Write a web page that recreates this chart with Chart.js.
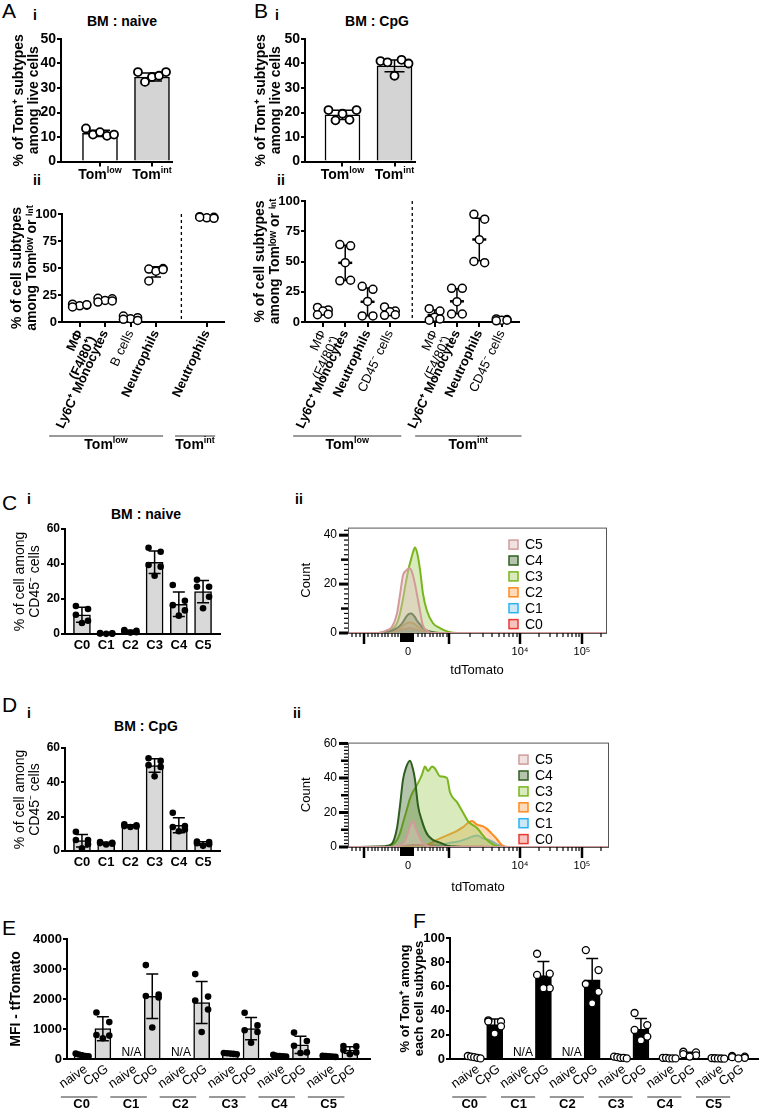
<!DOCTYPE html>
<html>
<head>
<meta charset="utf-8">
<script src="https://cdn.jsdelivr.net/npm/chart.js@4.4.1/dist/chart.umd.min.js"></script>
<style>
  body { margin: 0; width: 763px; height: 1110px; position: relative; background: #fff; overflow: hidden;
         font-family: "Liberation Sans", Arial, sans-serif; color: #000; }
  canvas { position: absolute; }
  .t { position: absolute; white-space: nowrap; line-height: 1; }
  .big { font-size: 21px; }
  .sub { font-size: 14px; font-weight: bold; }
  .c { transform: translateX(-50%); }
</style>
</head>
<body>
<div class="t big" style="left:2px;top:0">A</div>
<div class="t sub" style="left:33px;top:8px">i</div>
<div class="t sub c" style="left:122px;top:14px">BM : naive</div>
<div class="t big" style="left:254px;top:0">B</div>
<div class="t sub" style="left:275px;top:8px">i</div>
<div class="t sub c" style="left:377px;top:14px">BM : CpG</div>
<div class="t sub" style="left:33px;top:173px">ii</div>
<div class="t sub" style="left:277px;top:173px">ii</div>
<div class="t big" style="left:2px;top:492px">C</div>
<div class="t sub" style="left:27px;top:492px">i</div>
<div class="t sub c" style="left:146px;top:507px">BM : naive</div>
<div class="t sub" style="left:295px;top:492px">ii</div>
<div class="t big" style="left:2px;top:694px">D</div>
<div class="t sub" style="left:27px;top:706px">i</div>
<div class="t sub c" style="left:146px;top:719px">BM : CpG</div>
<div class="t sub" style="left:293px;top:706px">ii</div>
<div class="t big" style="left:2px;top:917px">E</div>
<div class="t big" style="left:413px;top:910px">F</div>

<script>
// ---- A/B i : Tom+ subtypes among live cells ----
const tomLevels = [["Tom", "low"], ["Tom", "int"]]
const naiveTomMean = [11.5, 34.5]
const naiveTomSd = [1.3, 1.6]
const naiveTomPts = [[13.5, 11, 12, 10.5, 11], [36.5, 32.5, 34.5, 35, 36.5]]
const cpgTomMean = [19, 39]
const cpgTomSd = [1.9, 2.4]
const cpgTomPts = [[21, 16.8, 19.5, 17, 21], [41, 40.5, 35, 41.5, 40]]

// ---- A/B ii : cell subtypes among Tom low / int ----
const naiveSubsets = [["MΦ", "(F4/80⁺)"], "Ly6C⁺ Monocytes", "B cells", "Neutrophils", "Neutrophils"]
const naiveSubsetBold = [true, true, false, true, true]
const naiveSubMean = [15.3, 20.3, 3.3, 46.4, 96.8]
const naiveSubSd = [1.0, 1.4, 1.5, 4.8, 0.6]
const naiveSubPts = [[16.5, 15.5, 15, 14, 16], [22, 21.5, 20, 18.5, 19.5], [5.5, 4, 3, 2.5, 1.5], [49, 49.5, 47, 38, 48.5], [97.5, 97, 96.5, 97, 96]]

const cpgSubsets = [["MΦ", "(F4/80⁺)"], "Ly6C⁺ Monocytes", "Neutrophils", "CD45⁻ cells", ["MΦ", "(F4/80⁺)"], "Ly6C⁺ Monocytes", "Neutrophils", "CD45⁻ cells"]
const cpgSubsetBold = [false, true, true, false, false, true, true, false]
const cpgSubMean = [8.7, 48.9, 16.7, 8.3, 5.6, 17.1, 68.2, 1.7]
const cpgSubSd = [2.6, 14.5, 11.5, 2.8, 4.3, 10.3, 17.5, 0.6]
const cpgSubPts = [[12, 10, 9, 6, 6.5], [64, 63, 49, 34, 34.5], [29.5, 27, 17, 5, 5], [12.5, 9, 8.5, 5.5, 6], [11, 9, 4, 1.5, 2.5], [27.8, 27.8, 16.8, 6.6, 6.6], [89, 85, 68, 50, 49], [2.5, 2, 1.5, 1, 1.5]]

// ---- C/D i : % of clusters among CD45- cells ----
const clusters = ["C0", "C1", "C2", "C3", "C4", "C5"]
const naiveClMean = [11, 0.3, 1.5, 41, 17, 24.2]
const naiveClSd = [4.3, 0.2, 0.6, 6.4, 7, 6.4]
const naiveClPts = [[16, 14.3, 11, 7.6, 6.3], [0.5, 0.4, 0.3, 0.2, 0.1], [2.2, 1.8, 1.5, 1, 0.8], [49.3, 47, 39.4, 38.5, 33.3], [28, 19, 16.5, 13.5, 10.5], [31, 27, 27, 21.3, 14.7]]
const cpgClMean = [6, 4.5, 14.7, 49.8, 15, 4.4]
const cpgClSd = [3.6, 0.6, 0.6, 3.9, 4.3, 1]
const cpgClPts = [[11.2, 6.4, 6.4, 4, 1.6], [5.2, 4.8, 4.6, 4.2, 3.8], [15.5, 15, 14.5, 14.3, 14], [54, 52.5, 50, 49, 43.5], [22.3, 14.5, 14, 12.5, 11.5], [5.5, 5.2, 4.5, 4, 3]]

// ---- C/D ii : tdTomato histograms (display channel, count) ----
const naiveChannel = [0, 30, 38, 44, 49, 52, 55, 58, 61, 63, 65, 67, 69, 72, 75, 79, 85, 92, 100, 110, 258]
const naiveC5 = [0, 0, 1, 2.5, 8, 15.7, 23.5, 25.5, 26.5, 26, 23.5, 20, 15.7, 9, 3, 1, 0, 0, 0, 0, 0]
const naiveC4 = [0, 0, 0.3, 1, 2, 3, 4.5, 6.5, 7.8, 8, 7.5, 6.5, 5, 3.5, 2, 1, 0.3, 0, 0, 0, 0]
const naiveC3 = [0, 0, 0.5, 1.5, 4, 8, 14, 21, 27, 30, 33, 35, 33, 26, 16, 9, 4, 2, 0.5, 0, 0]
const naiveC2 = [0, 0, 0, 0.5, 1, 2, 3, 3.8, 4.3, 4.3, 4, 3.5, 2.8, 2, 1.2, 0.5, 0, 0, 0, 0, 0]
const naiveC1 = [0, 0, 0, 0, 0.2, 0.4, 0.6, 0.8, 0.9, 0.9, 0.8, 0.7, 0.5, 0.3, 0.2, 0, 0, 0, 0, 0, 0]
const naiveC0 = [0, 0, 0, 0.3, 0.6, 1, 1.4, 1.7, 1.9, 1.9, 1.7, 1.5, 1.2, 0.8, 0.5, 0.2, 0, 0, 0, 0, 0]

const cpgChannel = [0, 37, 44, 49, 52, 55, 58, 62, 65, 67, 70, 74, 77, 80, 84, 87, 92, 99, 102, 109, 115, 120, 124, 129, 135, 139, 145, 149, 154, 162, 172, 260]
const cpgC5 = [0, 0, 0, 0.5, 1, 2, 5, 12, 15, 12, 7.8, 3, 1.5, 0.5, 0, 0, 0, 0, 0, 0, 0, 0, 0, 0, 0, 0, 0, 0, 0, 0, 0, 0]
const cpgC4 = [0, 0.5, 2, 11, 24, 39, 46, 50, 45, 39, 24, 15, 10, 6.7, 4.5, 3.5, 2.5, 0.8, 0.5, 0.2, 0, 0, 0, 0, 0, 0, 0, 0, 0, 0, 0, 0]
const cpgC3 = [0, 0, 1, 4, 8, 14, 20, 28, 32, 34, 37, 42, 46.7, 44, 46.7, 45.5, 41, 40, 31.7, 26, 20, 15, 13, 11, 6.7, 4, 1.5, 0.5, 0, 0, 0, 0]
const cpgC2 = [0, 0, 0, 0, 0, 0, 0, 0, 0, 0, 0, 0, 0, 1.5, 2.5, 3.5, 5, 6.7, 7.5, 9.4, 11.5, 14, 15, 13, 12, 10.5, 7, 4.5, 1, 0, 0, 0]
const cpgC1 = [0, 0, 0, 0, 0, 0, 0, 0, 0, 0, 0, 0, 0, 0, 0, 0.5, 1, 2, 2.5, 3, 4, 5, 6, 6.7, 5, 4.5, 3, 1.5, 0.5, 0, 0, 0]
const cpgC0 = [0, 0, 0, 0, 0.3, 0.5, 0.8, 1, 1.1, 1.2, 1.2, 1, 1, 0.9, 0.8, 0.8, 0.7, 0.5, 0.5, 0.5, 0.5, 0.5, 0.5, 0.5, 0.4, 0.3, 0.2, 0.2, 0, 0, 0, 0]

const fluoTicks = [60, 172, 234]
const fluoLabels = ["0", "10⁴", "10⁵"]

// ---- E : MFI tdTomato ----
const mfiNaiveMean = [133, null, null, 180, 105, 90]
const mfiNaiveSd = [35, null, null, 15, 23, 15]
const mfiNaivePts = [[180, 150, 120, 100, 90], null, null, [200, 190, 180, 170, 160], [140, 110, 100, 90, 80], [110, 100, 90, 80, 70]]
const mfiCpgMean = [1010, 2090, 1880, 1010, 470, 300]
const mfiCpgSd = [400, 740, 700, 370, 290, 110]
const mfiCpgPts = [[1550, 1230, 800, 780, 690], [3130, 2150, 2100, 2050, 1050], [2830, 2080, 1950, 1650, 900], [1540, 1120, 960, 900, 540], [880, 600, 440, 220, 200], [430, 420, 300, 220, 160]]

// ---- F : % Tom+ among each cell subtype ----
const tomNaiveMean = [1.5, null, null, 1.2, 0.7, 0.5]
const tomNaiveSd = [0.8, null, null, 0.6, 0.3, 0.2]
const tomNaivePts = [[2.5, 2, 1.5, 1, 0.5], null, null, [2, 1.5, 1, 1, 0.5], [1, 1, 0.5, 0.5, 0.5], [0.8, 0.6, 0.5, 0.4, 0.3]]
const tomCpgMean = [28.5, 69, 65.5, 24.5, 4, 1.5]
const tomCpgSd = [4.5, 11.5, 17.5, 9, 1.6, 0.8]
const tomCpgPts = [[32, 31, 31, 27, 21], [87, 70.5, 69.5, 58.5, 58.5], [90, 73.5, 62, 55.5, 46], [38, 28, 24, 18.5, 15.5], [6, 5.5, 4, 3, 2], [2.5, 2, 1.5, 1, 0.5]]

// ---------------------------------------------------------------
const FONT = '"Liberation Sans", Arial, sans-serif'
const f = (size, weight) => ({ family: FONT, size, weight: weight || "normal", lineHeight: 1.1 })

Chart.defaults.animation = false
Chart.defaults.responsive = false
Chart.defaults.maintainAspectRatio = false
Chart.defaults.devicePixelRatio = 1
Chart.defaults.font.family = FONT
Chart.defaults.color = "#000"
Chart.defaults.events = []
Chart.defaults.plugins.legend.display = false
Chart.defaults.plugins.tooltip.enabled = false

// jitter patterns for the replicate dots
const ROW = [-1, -0.5, 0, 0.5, 1]
const PAIR = [-1, 1, 0, -1, 1]
const TRI = [-1, 1, -1, 1, 0]

function place(left, top, w, h) {
  const c = document.createElement("canvas")
  c.width = w
  c.height = h
  c.style.left = left + "px"
  c.style.top = top + "px"
  c.style.width = w + "px"
  c.style.height = h + "px"
  document.body.appendChild(c)
  return c.getContext("2d")
}

function dots(groups, pos, pattern, spread) {
  const out = []
  groups.forEach((vals, i) => {
    if (!vals) return
    vals.forEach((v, j) => out.push({ x: pos[i] + pattern[j % pattern.length] * spread, y: v }))
  })
  return out
}

function barSet(means, sds, pos, o) {
  return {
    type: "bar", data: means.map((m, i) => ({ x: pos[i], y: m })),
    backgroundColor: o.fill, borderColor: "#000", borderWidth: 1.5, barThickness: o.w, grouped: false,
    errors: sds, capWidth: o.cap, order: 2,
  }
}

function meanSet(means, sds, pos, o) {
  return {
    type: "scatter", data: means.map((m, i) => ({ x: pos[i], y: m })),
    pointStyle: "line", pointRadius: o.r, pointBorderWidth: 2.5, pointBorderColor: "#000", borderColor: "#000",
    errors: sds, capWidth: o.cap, order: 1, clip: false,
  }
}

function dotSet(pts, pos, pattern, spread, o) {
  return {
    type: "scatter", data: dots(pts, pos, pattern, spread),
    pointRadius: o.r, pointBackgroundColor: o.fill, pointBorderColor: "#000", pointBorderWidth: o.bw,
    order: 0, clip: false,
  }
}

function yLin(o) {
  return {
    min: 0, max: o.max,
    afterFit: (s) => { s.width = o.width },
    ticks: { stepSize: o.step, color: "#000", font: f(o.size, "bold"), padding: 1, callback: (v) => String(v) },
    border: { color: "#000", width: 2 },
    grid: { drawOnChartArea: false, color: "#000", lineWidth: 2, tickLength: 4 },
    title: { display: true, text: o.title, color: "#000", font: f(o.tsize || 14, o.tweight || "bold"), padding: { top: o.tpad, bottom: 0 } },
  }
}

function xIdx(o) {
  return {
    type: "linear", min: o.min, max: o.max, offset: false,
    afterFit: (s) => { s.height = o.height },
    afterBuildTicks: (s) => { s.ticks = o.at.map((v) => ({ value: v })) },
    ticks: {
      display: !!o.labels, callback: (v, i) => (o.labels ? o.labels[i] : ""),
      color: "#000", font: o.fonts ? (c) => o.fonts[c.index] : o.font,
      maxRotation: o.rot || 0, minRotation: o.rot || 0, autoSkip: false,
      padding: o.pad == null ? 3 : o.pad, labelOffset: o.lo || 0,
    },
    border: { color: "#000", width: 2 },
    grid: { display: true, offset: false, drawOnChartArea: false, drawTicks: !!o.tickMarks,
      color: o.tickMarks ? "#000" : "rgba(0,0,0,0)", lineWidth: 2, tickLength: 5 },
  }
}

// whiskers (mean +/- SD) drawn after the dataset that carries them
const errorBars = {
  id: "errorBars",
  afterDatasetDraw(chart, args) {
    const ds = chart.data.datasets[args.index]
    if (!ds.errors) return
    const y = chart.scales.y
    const ctx = chart.ctx
    ctx.save()
    ctx.strokeStyle = "#000"
    ctx.lineWidth = 1.5
    args.meta.data.forEach((el, i) => {
      const d = ds.data[i]
      const sd = ds.errors[i]
      if (!d || d.y == null || sd == null) return
      const yt = y.getPixelForValue(d.y + sd)
      const yb = y.getPixelForValue(Math.max(0, d.y - sd))
      const c = ds.capWidth
      ctx.beginPath()
      ctx.moveTo(el.x, yt); ctx.lineTo(el.x, yb)
      ctx.moveTo(el.x - c, yt); ctx.lineTo(el.x + c, yt)
      ctx.moveTo(el.x - c, yb); ctx.lineTo(el.x + c, yb)
      ctx.stroke()
    })
    ctx.restore()
  },
}

// underlined group names under the x axis (Tom low / int, C0..C5)
const groupLabels = {
  id: "groupLabels",
  afterDraw(chart, args, o) {
    if (!o || !o.items) return
    const { ctx, chartArea } = chart
    const x = chart.scales.x
    ctx.save()
    o.items.forEach((g) => {
      if (g.line) {
        ctx.strokeStyle = "#777"
        ctx.lineWidth = 1.5
        ctx.beginPath()
        ctx.moveTo(x.getPixelForValue(g.from), chartArea.bottom + o.lineY)
        ctx.lineTo(x.getPixelForValue(g.to), chartArea.bottom + o.lineY)
        ctx.stroke()
      }
      const cx = x.getPixelForValue(g.at)
      const y = chartArea.bottom + o.textY
      ctx.fillStyle = "#000"
      ctx.textAlign = "left"
      ctx.textBaseline = "alphabetic"
      ctx.font = `bold ${o.size}px ${FONT}`
      const w1 = ctx.measureText(g.text).width
      ctx.font = `bold ${o.supSize}px ${FONT}`
      const w2 = g.sup ? ctx.measureText(g.sup).width : 0
      const left = cx - (w1 + w2) / 2
      ctx.font = `bold ${o.size}px ${FONT}`
      ctx.fillText(g.text, left, y)
      if (g.sup) {
        ctx.font = `bold ${o.supSize}px ${FONT}`
        ctx.fillText(g.sup, left + w1, y - o.size * 0.42)
      }
    })
    ctx.restore()
  },
}

const divider = {
  id: "divider",
  afterDraw(chart, args, o) {
    if (!o || o.at == null) return
    const { ctx, chartArea } = chart
    const px = chart.scales.x.getPixelForValue(o.at)
    ctx.save()
    ctx.setLineDash([3, 3])
    ctx.strokeStyle = "#000"
    ctx.lineWidth = 1.3
    ctx.beginPath()
    ctx.moveTo(px, chartArea.top)
    ctx.lineTo(px, chartArea.bottom)
    ctx.stroke()
    ctx.restore()
  },
}

const naLabels = {
  id: "naLabels",
  afterDraw(chart, args, o) {
    if (!o || o.dataset == null) return
    const { ctx, chartArea } = chart
    ctx.save()
    ctx.font = `12px ${FONT}`
    ctx.fillStyle = "#000"
    ctx.textAlign = "center"
    chart.data.datasets[o.dataset].data.forEach((d) => {
      if (d.y == null) ctx.fillText("N/A", chart.scales.x.getPixelForValue(d.x), chartArea.bottom - 3)
    })
    ctx.restore()
  },
}

const frame = {
  id: "frame",
  afterDraw(chart, args, o) {
    if (!o || !o.color) return
    const { ctx, chartArea: a } = chart
    ctx.save()
    ctx.strokeStyle = o.color
    ctx.lineWidth = 1
    ctx.strokeRect(a.left + 0.5, a.top + 0.5, a.right - a.left, a.bottom - a.top)
    ctx.restore()
  },
}

const fineTicks = {
  id: "fineTicks",
  afterDraw(chart, args, o) {
    if (!o || !o.x) return
    const { ctx, chartArea: a, scales } = chart
    ctx.save()
    ctx.strokeStyle = "#000"
    o.x.forEach((t) => {
      const p = scales.x.getPixelForValue(t[0])
      ctx.lineWidth = t[2]
      ctx.beginPath(); ctx.moveTo(p, a.bottom); ctx.lineTo(p, a.bottom + t[1]); ctx.stroke()
    })
    o.y.forEach((t) => {
      const p = scales.y.getPixelForValue(t[0])
      ctx.lineWidth = t[2]
      ctx.beginPath(); ctx.moveTo(a.left, p); ctx.lineTo(a.left - t[1], p); ctx.stroke()
    })
    ctx.restore()
  },
}

const boxLegend = {
  id: "boxLegend",
  afterDraw(chart, args, o) {
    if (!o || o.x == null) return
    const { ctx, chartArea } = chart
    ctx.save()
    chart.data.datasets.forEach((ds, i) => {
      const x = chartArea.left + o.x
      const y = chartArea.top + o.y + i * o.step
      ctx.fillStyle = "#fff"
      ctx.fillRect(x, y - 4.5, 9, 9)
      ctx.fillStyle = ds.backgroundColor
      ctx.fillRect(x, y - 4.5, 9, 9)
      ctx.strokeStyle = ds.borderColor
      ctx.lineWidth = 1.5
      ctx.strokeRect(x, y - 4.5, 9, 9)
      ctx.fillStyle = "#000"
      ctx.font = `14px ${FONT}`
      ctx.textBaseline = "middle"
      ctx.fillText(ds.label, x + 16, y + 1)
    })
    ctx.restore()
  },
}

Chart.register(errorBars, groupLabels, divider, naLabels, frame, fineTicks, boxLegend)

const tomItems = tomLevels.map((t, i) => ({ line: false, from: i, to: i, at: i, text: t[0], sup: t[1] }))

// ---------------- A i ----------------
new Chart(place(0, 25, 180, 185), {
  type: "bar",
  data: {
    datasets: [
      barSet(naiveTomMean, naiveTomSd, [0, 1], { fill: ["#fff", "#d4d4d4"], w: 35, cap: 10 }),
      dotSet(naiveTomPts, [0, 1], ROW, 0.27, { r: 4, fill: "#fff", bw: 1.8 }),
    ],
  },
  options: {
    layout: { padding: { top: 14, right: 8 } },
    scales: {
      x: xIdx({ min: -0.75, max: 1.385, height: 48.5, at: [0, 1], tickMarks: true }),
      y: yLin({ max: 50, step: 10, width: 61, size: 14, title: ["% of Tom⁺ subtypes", "among live cells"], tpad: 11 }),
    },
    plugins: { groupLabels: { textY: 17.5, lineY: 0, size: 14, supSize: 9, items: tomItems } },
  },
})

// ---------------- B i ----------------
new Chart(place(243, 25, 180, 185), {
  type: "bar",
  data: {
    datasets: [
      barSet(cpgTomMean, cpgTomSd, [0, 1], { fill: ["#fff", "#d4d4d4"], w: 35, cap: 10 }),
      dotSet(cpgTomPts, [0, 1], ROW, 0.27, { r: 4, fill: "#fff", bw: 1.8 }),
    ],
  },
  options: {
    layout: { padding: { top: 14, right: 8 } },
    scales: {
      x: xIdx({ min: -0.721, max: 1.394, height: 48.5, at: [0, 1], tickMarks: true }),
      y: yLin({ max: 50, step: 10, width: 62, size: 14, title: ["% of Tom⁺ subtypes", "among live cells"], tpad: 10.3 }),
    },
    plugins: { groupLabels: { textY: 17.5, lineY: 0, size: 14, supSize: 9, items: tomItems } },
  },
})

// ---------------- A ii ----------------
const naivePos = [0, 1, 2, 3, 5]
new Chart(place(0, 190, 235, 265), {
  type: "scatter",
  data: {
    datasets: [
      meanSet(naiveSubMean, naiveSubSd, naivePos, { r: 8.5, cap: 5 }),
      dotSet(naiveSubPts, naivePos, PAIR, 0.28, { r: 4, fill: "#fff", bw: 1.5 }),
    ],
  },
  options: {
    layout: { padding: { top: 24, right: 8 } },
    scales: {
      x: xIdx({ min: -0.695, max: 5.676, height: 133, at: naivePos, labels: naiveSubsets,
        fonts: naiveSubsetBold.map((b) => f(13, b ? "bold" : "normal")), rot: 65, tickMarks: true, pad: 1 }),
      y: yLin({ max: 100, step: 25, width: 62, size: 13, title: ["% of cell subtypes", "among Tomˡᵒʷ or ⁱⁿᵗ"], tpad: 9.3 }),
    },
    plugins: {
      divider: { at: 4 },
      groupLabels: { lineY: 114, textY: 127, size: 14, supSize: 9,
        items: [{ line: true, from: -1.2, to: 3.28, at: 1.04, text: "Tom", sup: "low" },
                { line: true, from: 3.75, to: 5.33, at: 4.54, text: "Tom", sup: "int" }] },
    },
  },
})

// ---------------- B ii ----------------
const cpgPos = [0, 1, 2, 3, 5, 6, 7, 8]
new Chart(place(243, 190, 285, 265), {
  type: "scatter",
  data: {
    datasets: [
      meanSet(cpgSubMean, cpgSubSd, cpgPos, { r: 7, cap: 4.5 }),
      dotSet(cpgSubPts, cpgPos, PAIR, 0.24, { r: 4, fill: "#fff", bw: 1.5 }),
    ],
  },
  options: {
    layout: { padding: { top: 11, right: 8 } },
    scales: {
      x: xIdx({ min: -0.8, max: 8.755, height: 133, at: cpgPos, labels: cpgSubsets,
        fonts: cpgSubsetBold.map((b) => f(13, b ? "bold" : "normal")), rot: 65, tickMarks: true, pad: 1 }),
      y: yLin({ max: 100, step: 25, width: 62, size: 13, title: ["% of cell subtypes", "among Tomˡᵒʷ or ⁱⁿᵗ"], tpad: 9.3 }),
    },
    plugins: {
      divider: { at: 4 },
      groupLabels: { lineY: 114, textY: 127, size: 14, supSize: 9,
        items: [{ line: true, from: -1.33, to: 3.51, at: 1.09, text: "Tom", sup: "low" },
                { line: true, from: 4.13, to: 8.89, at: 6.51, text: "Tom", sup: "int" }] },
    },
  },
})

// ---------------- C i / D i ----------------
const clPos = clusters.map((c, i) => i)
function clusterChart(ctx, means, sds, pts, pad, xh) {
  return new Chart(ctx, {
    type: "bar",
    data: {
      datasets: [
        barSet(means, sds, clPos, { fill: "#d9d9d9", w: 17, cap: 6 }),
        dotSet(pts, clPos, TRI, 0.25, { r: 3.3, fill: "#000", bw: 0 }),
      ],
    },
    options: {
      layout: { padding: { top: pad, right: 5 } },
      scales: {
        x: xIdx({ min: -0.7, max: 5.7, height: xh, at: clPos, labels: clusters, font: f(13, "bold"), pad: 4 }),
        y: yLin({ max: 60, step: 20, width: 65, size: 12, title: ["% of cell among", "CD45⁻ cells"], tsize: 14, tweight: "normal", tpad: 12 }),
      },
    },
  })
}
clusterChart(place(0, 520, 225, 140), naiveClMean, naiveClSd, naiveClPts, 9, 26)
clusterChart(place(0, 735, 225, 140), cpgClMean, cpgClSd, cpgClPts, 13, 24)

// ---------------- C ii / D ii ----------------
const histStyle = {
  C5: ["#d39a9a", "rgba(225,190,190,0.45)"],
  C4: ["#2f5f1f", "rgba(70,110,50,0.40)"],
  C3: ["#79b51c", "rgba(160,205,90,0.40)"],
  C2: ["#ff8a1f", "rgba(255,175,100,0.45)"],
  C1: ["#2bb3f0", "rgba(140,205,240,0.45)"],
  C0: ["#e83a33", "rgba(240,120,110,0.45)"],
}
const fluoMajor = [16, 101, 172, 234]
const fluoZero = [53, 54.5, 56, 57.5, 59, 60.5, 62, 63.5, 65]
const fluoMinor = [4, 8, 12, 20, 24, 27, 30, 34, 37, 40, 44, 47, 50, 70, 74, 77, 82, 85, 89, 92, 95, 99,
  122, 135, 144, 151, 156, 161, 165, 169, 191, 202, 209, 215, 220, 224, 228, 231, 253]

function countTicks(top) {
  const out = []
  for (let v = 0; v <= top; v += 2) {
    if (v % 20 === 0) out.push([v, 9, 3])
    else if (v % 10 === 0) out.push([v, 7, 2.5])
    else out.push([v, 4, 1.2])
  }
  return out
}

function histChart(ctx, channel, series, o) {
  const names = ["C5", "C4", "C3", "C2", "C1", "C0"]
  return new Chart(ctx, {
    type: "line",
    data: {
      datasets: names.map((k, n) => ({
        label: k,
        data: channel.map((x, i) => ({ x, y: series[n][i] })),
        borderColor: histStyle[k][0], backgroundColor: histStyle[k][1],
        fill: "origin", borderWidth: 2, pointRadius: 0, cubicInterpolationMode: "monotone",
      })),
    },
    options: {
      layout: { padding: { top: 13, right: 4 } },
      scales: {
        x: {
          type: "linear", min: 0, max: o.xmax,
          afterFit: (s) => { s.height = o.xh },
          afterBuildTicks: (s) => { s.ticks = fluoTicks.map((v) => ({ value: v })) },
          ticks: { callback: (v, i) => fluoLabels[i], font: f(11), color: "#000", padding: 13, maxRotation: 0 },
          grid: { display: false, drawTicks: false }, border: { display: false },
          title: { display: true, text: "tdTomato", font: f(13), color: "#000", padding: { top: 0, bottom: o.tpad } },
        },
        y: {
          min: 0, max: o.ymax,
          afterFit: (s) => { s.width = 58 },
          afterBuildTicks: (s) => { s.ticks = o.yTicks.map((v) => ({ value: v })) },
          ticks: { font: f(12), color: "#000", padding: 11 },
          grid: { display: false, drawTicks: false }, border: { display: false },
          title: { display: true, text: "Count", font: f(13), color: "#000", padding: { top: 9, bottom: 0 } },
        },
      },
      plugins: {
        frame: { color: "#555" },
        fineTicks: {
          x: fluoMajor.map((v) => [v, 11, 2.5]).concat(fluoZero.map((v) => [v, 9, 2]), fluoMinor.map((v) => [v, 4, 1.2])),
          y: countTicks(o.ymax),
        },
        boxLegend: { x: o.legX, y: 17, step: 15.9 },
      },
    },
  })
}
histChart(place(290, 510, 320, 170), naiveChannel, [naiveC5, naiveC4, naiveC3, naiveC2, naiveC1, naiveC0],
  { xmax: 258, ymax: 43.1, xh: 47, yTicks: [0, 20, 40], tpad: 2.8, legX: 161 })
histChart(place(290, 725, 322, 170), cpgChannel, [cpgC5, cpgC4, cpgC3, cpgC2, cpgC1, cpgC0],
  { xmax: 260, ymax: 60.5, xh: 48, yTicks: [0, 20, 40, 60], tpad: 0.8, legX: 171 })

// ---------------- E / F ----------------
const naiveX = clusters.map((c, i) => i - 0.21)
const cpgX = clusters.map((c, i) => i + 0.21)
const pairX = clusters.flatMap((c, i) => [i - 0.21, i + 0.21])
const pairLabels = clusters.flatMap(() => ["naive", "CpG"])

function pairChart(ctx, o) {
  return new Chart(ctx, {
    type: "bar",
    data: {
      datasets: [
        barSet(o.naiveMean, o.naiveSd, naiveX, { fill: o.bar, w: 16, cap: 6 }),
        barSet(o.cpgMean, o.cpgSd, cpgX, { fill: o.bar, w: 16, cap: 6 }),
        dotSet(o.naivePts, naiveX, ROW, 0.13, o.dot),
        dotSet(o.cpgPts, cpgX, TRI, 0.13, o.dot),
      ],
    },
    options: {
      layout: { padding: { top: o.top, right: o.right } },
      scales: {
        x: xIdx({ min: o.min, max: o.max, height: 51, at: pairX, labels: pairLabels, font: f(13), rot: 35, pad: 3, lo: 4 }),
        y: yLin({ max: o.ymax, step: o.step, width: o.yw, size: 13, title: o.title, tsize: o.tsize, tpad: o.tpad }),
      },
      plugins: {
        naLabels: { dataset: 0 },
        groupLabels: { lineY: 38, textY: 49, size: 13, supSize: 9,
          items: clusters.map((c, i) => ({ line: true, from: i - o.gl[0], to: i + o.gl[1], at: i - o.gl[2], text: c, sup: "" })) },
      },
    },
  })
}

pairChart(place(0, 925, 375, 185), {
  naiveMean: mfiNaiveMean, naiveSd: mfiNaiveSd, naivePts: mfiNaivePts,
  cpgMean: mfiCpgMean, cpgSd: mfiCpgSd, cpgPts: mfiCpgPts,
  bar: "#d9d9d9", dot: { r: 3.3, fill: "#000", bw: 0 },
  top: 14, right: 5, min: -0.516, max: 5.618, ymax: 4000, step: 1000, yw: 67,
  title: "MFI - tfTomato", tsize: 14, tpad: 8.6, gl: [0.64, 0.1, 0.22],
})

pairChart(place(380, 925, 383, 185), {
  naiveMean: tomNaiveMean, naiveSd: tomNaiveSd, naivePts: tomNaivePts,
  cpgMean: tomCpgMean, cpgSd: tomCpgSd, cpgPts: tomCpgPts,
  bar: "#000", dot: { r: 3.5, fill: "#fff", bw: 1.3 },
  top: 13, right: 0, min: -0.706, max: 5.605, ymax: 100, step: 20, yw: 70,
  title: ["% of Tom⁺ among", "each cell subtypes"], tsize: 13, tpad: 18, gl: [0.66, 0.04, 0.3],
})
</script>
</body>
</html>
